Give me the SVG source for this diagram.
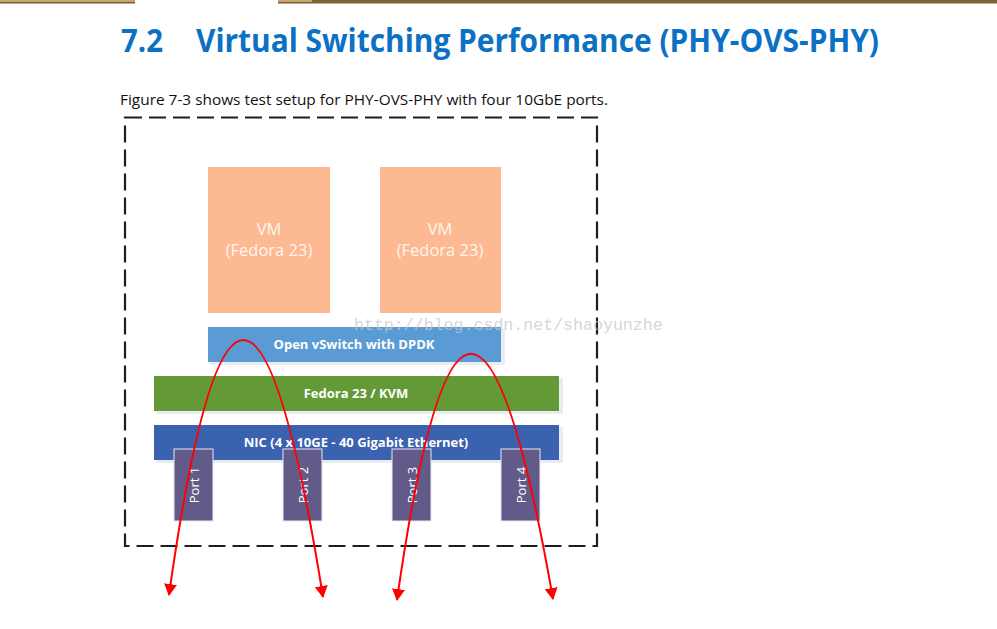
<svg xmlns="http://www.w3.org/2000/svg" width="997" height="629" viewBox="0 0 997 629">
<defs>
<style>
.vm{fill:#fdb992}
.vmt{font-family:"Open Sans","Liberation Sans",sans-serif;font-size:16.5px;fill:#fff6ef;text-anchor:middle}
.bar{font-family:"Open Sans","Liberation Sans",sans-serif;font-size:13px;font-weight:bold;fill:#fff;text-anchor:middle}
.port{fill:#625a89;stroke:#e8e6f0;stroke-width:1}
.pt{font-family:"Open Sans","Liberation Sans",sans-serif;font-size:13px;fill:#fff;text-anchor:middle}
.shadow{fill:#e9ecf2}
.flow{fill:none;stroke:#f00;stroke-width:2;marker-start:url(#ah);marker-end:url(#ah)}
</style>
<marker id="ah" markerWidth="14" markerHeight="14" refX="11" refY="6.5" orient="auto-start-reverse" markerUnits="userSpaceOnUse">
<path d="M0,0 L12,6.5 L0,13 z" fill="#f00"/>
</marker>
</defs>
<rect width="997" height="629" fill="#fff"/>
<g id="tabbar">
<rect x="0" y="0" width="135" height="3" fill="#c9a76c"/>
<rect x="0" y="2" width="135" height="1.5" fill="#7a5d33"/>
<rect x="278" y="0" width="34" height="3" fill="#c9a76c"/>
<rect x="278" y="2" width="34" height="1.5" fill="#7a5d33"/>
<rect x="312" y="0" width="685" height="3.5" fill="#7d6338"/>
</g>
<text id="heading" x="121" y="52" font-family="'Open Sans','Liberation Sans',sans-serif" font-size="33" font-weight="bold" fill="#0b71c4"><tspan textLength="42" lengthAdjust="spacingAndGlyphs">7.2</tspan><tspan x="196" textLength="683" lengthAdjust="spacingAndGlyphs">Virtual Switching Performance (PHY-OVS-PHY)</tspan></text>
<text id="caption" x="120" y="105" font-family="'Open Sans','Liberation Sans',sans-serif" font-size="15" fill="#111" textLength="488" lengthAdjust="spacingAndGlyphs">Figure 7-3 shows test setup for PHY-OVS-PHY with four 10GbE ports.</text>
<g id="frame">
<rect x="125" y="117.5" width="472" height="428.5" fill="none" stroke="#1e1e1e" stroke-width="2.2" stroke-dasharray="17 7"/>
</g>
<g id="vm1">
<rect class="vm" x="208" y="167" width="122" height="146"/>
<text class="vmt" x="269" y="235">VM</text>
<text class="vmt" x="269" y="256">(Fedora 23)</text>
</g>
<g id="vm2">
<rect class="vm" x="380" y="167" width="121" height="146"/>
<text class="vmt" x="440" y="235">VM</text>
<text class="vmt" x="440" y="256">(Fedora 23)</text>
</g>
<g id="ovs">
<rect class="shadow" x="210" y="329" width="295" height="36"/>
<rect x="208" y="327" width="293" height="35" fill="#5b9bd5"/>
<text class="bar" x="354" y="349">Open vSwitch with DPDK</text>
</g>
<g id="fedora">
<rect class="shadow" x="156" y="378" width="407" height="36"/>
<rect x="154" y="376" width="405" height="35" fill="#639a37"/>
<text class="bar" x="356" y="398">Fedora 23 / KVM</text>
</g>
<g id="nic">
<rect class="shadow" x="156" y="427" width="407" height="36"/>
<rect x="154" y="425" width="405" height="35" fill="#3a62ae"/>
<text class="bar" x="356" y="447">NIC (4 x 10GE - 40 Gigabit Ethernet)</text>
</g>
<g id="port1">
<rect class="port" x="174" y="449" width="39" height="72"/>
<text class="pt" transform="translate(198.5,485) rotate(-90)">Port 1</text>
</g>
<g id="port2">
<rect class="port" x="283" y="449" width="39" height="72"/>
<text class="pt" transform="translate(307.5,485) rotate(-90)">Port 2</text>
</g>
<g id="port3">
<rect class="port" x="392" y="449" width="39" height="72"/>
<text class="pt" transform="translate(416.5,485) rotate(-90)">Port 3</text>
</g>
<g id="port4">
<rect class="port" x="501" y="449" width="39" height="72"/>
<text class="pt" transform="translate(525.5,485) rotate(-90)">Port 4</text>
</g>
<g id="connectors">
<path class="flow" d="M169,595 Q241,84 323,597"/>
<path class="flow" d="M553,599 Q467,108 397,600"/>
</g>
<text id="watermark" x="354" y="330" font-family="'Liberation Mono',monospace" font-size="16.6" fill="#c8c8c8" fill-opacity="0.75">http://blog.csdn.net/shaoyunzhe</text>
</svg>
